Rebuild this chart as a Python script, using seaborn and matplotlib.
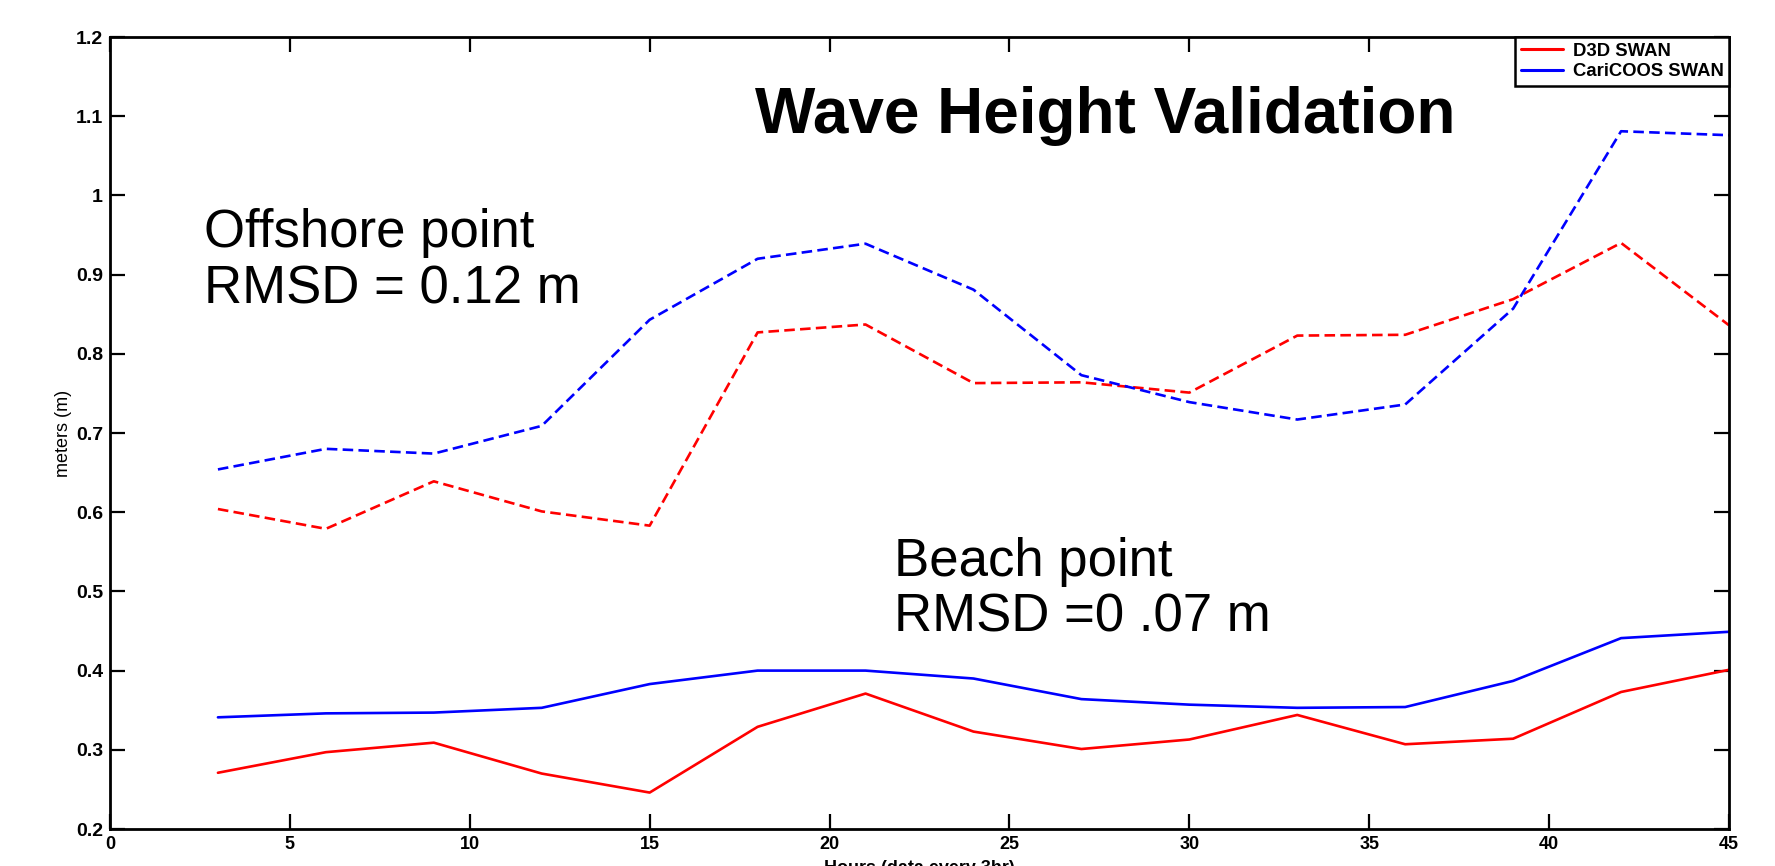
import pandas as pd
import matplotlib
matplotlib.use('Agg')
import matplotlib.pyplot as plt
import seaborn as sns
from matplotlib.lines import Line2D

# horas (datos cada 3 h)
hours = [3, 6, 9, 12, 15, 18, 21, 24, 27, 30, 33, 36, 39, 42, 45]

# punto offshore (lineas discontinuas)
d3d_offshore = [0.604, 0.579, 0.639, 0.601, 0.583, 0.827, 0.837, 0.763, 0.764,
                0.751, 0.823, 0.824, 0.869, 0.940, 0.836]
cari_offshore = [0.654, 0.680, 0.674, 0.709, 0.843, 0.920, 0.939, 0.881, 0.773,
                 0.739, 0.717, 0.736, 0.857, 1.081, 1.076]

# punto de playa (lineas continuas)
d3d_beach = [0.271, 0.297, 0.309, 0.270, 0.246, 0.329, 0.371, 0.323, 0.301,
             0.313, 0.344, 0.307, 0.314, 0.373, 0.401]
cari_beach = [0.341, 0.346, 0.347, 0.353, 0.383, 0.400, 0.400, 0.390, 0.364,
              0.357, 0.353, 0.354, 0.387, 0.441, 0.449]

series_names = ['D3D SWAN', 'CariCOOS SWAN']
series_colors = ['#ff0000', '#0000ff']

df = pd.DataFrame({
    'hora': hours * 4,
    'altura': d3d_offshore + cari_offshore + d3d_beach + cari_beach,
    'modelo': [series_names[0]] * 15 + [series_names[1]] * 15 + [series_names[0]] * 15 + [series_names[1]] * 15,
    'punto': ['offshore'] * 30 + ['beach'] * 30,
})

sns.set_style('ticks')
plt.rcParams['font.family'] = ['Liberation Sans', 'DejaVu Sans']
plt.rcParams['text.color'] = 'black'
plt.rcParams['axes.labelcolor'] = 'black'
plt.rcParams['xtick.color'] = 'black'
plt.rcParams['ytick.color'] = 'black'
narrow = ['Liberation Sans Narrow', 'Liberation Sans', 'DejaVu Sans']

fig = plt.figure(figsize=(17.75, 8.66), dpi=100)
ax = fig.add_axes([110 / 1775, 37 / 866, (1729 - 110) / 1775, (829 - 37) / 866])

pal = dict(zip(series_names, series_colors))
sns.lineplot(data=df[df['punto'] == 'offshore'], x='hora', y='altura', hue='modelo',
             palette=pal, ax=ax, legend=False, linewidth=1.9, dashes=False)
for line in ax.get_lines():
    line.set_dashes((4, 2))
sns.lineplot(data=df[df['punto'] == 'beach'], x='hora', y='altura', hue='modelo',
             palette=pal, ax=ax, legend=False, linewidth=1.9)

ax.set_xlim(0, 45)
ax.set_ylim(0.2, 1.2)
ax.set_xticks(range(0, 46, 5))
ax.set_yticks([0.2, 0.3, 0.4, 0.5, 0.6, 0.7, 0.8, 0.9, 1, 1.1, 1.2])
ax.set_yticklabels(['0.2', '0.3', '0.4', '0.5', '0.6', '0.7', '0.8', '0.9', '1', '1.1', '1.2'])
ax.tick_params(direction='in', top=True, right=True, length=11, width=1.6, pad=5)
for lab in ax.get_xticklabels():
    lab.set_family(narrow)
    lab.set_fontweight('bold')
    lab.set_fontsize(13)
for lab in ax.get_yticklabels():
    lab.set_fontweight('bold')
    lab.set_fontsize(14)
for sp in ax.spines.values():
    sp.set_linewidth(2)
    sp.set_color('black')

ax.set_xlabel('Hours (data every 3hr)', family=narrow, fontweight='bold', fontsize=13, labelpad=5)
ax.set_ylabel('meters (m)', family=narrow, fontsize=13, labelpad=3)

ax.text(27.65, 1.10, 'Wave Height Validation', family=narrow, fontweight='bold',
        fontsize=46, ha='center', va='center')
ax.text(2.6, 0.917, 'Offshore point\nRMSD = 0.12 m', fontsize=38, ha='left', va='center',
        linespacing=1.15)
ax.text(21.8, 0.502, 'Beach point\nRMSD =0 .07 m', fontsize=38, ha='left', va='center',
        linespacing=1.15)

handles = [Line2D([], [], color=c, lw=2.2) for c in series_colors]
leg = ax.legend(handles, series_names, loc='upper right', borderaxespad=0,
                prop={'family': 'Liberation Sans', 'weight': 'bold', 'size': 13.3},
                fancybox=False, framealpha=1, edgecolor='black', handlelength=2.3,
                borderpad=0.3, labelspacing=0.2, handletextpad=0.5)
leg.get_frame().set_linewidth(1.8)

fig.savefig('out.png', dpi=100)
